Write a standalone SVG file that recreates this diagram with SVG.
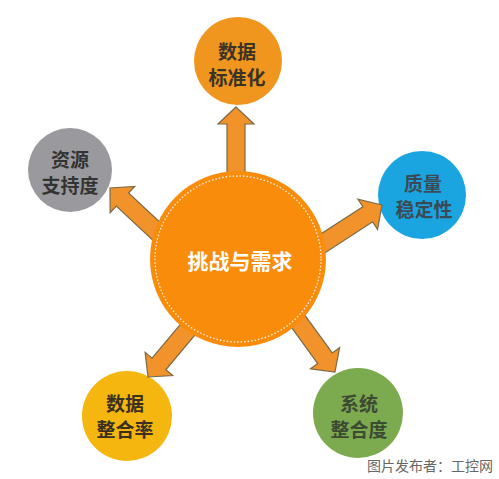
<svg xmlns="http://www.w3.org/2000/svg" width="499" height="479" viewBox="0 0 499 479">
<style>
.t{font-family:"Noto Sans CJK SC","Noto Sans",sans-serif;font-weight:bold;font-size:19px;text-anchor:middle;dominant-baseline:central}
.arr{fill:#F2922A;stroke:#7a6a48;stroke-width:1.2;stroke-linejoin:miter}
</style>
<defs>
<polygon id="a75" points="0,0 -17,-18 -17,-9 -75,-9 -75,9 -17,9 -17,18"/>
<polygon id="a70" points="0,0 -17,-18 -17,-9 -70,-9 -70,9 -17,9 -17,18"/>
</defs>
<rect width="499" height="479" fill="#ffffff"/>
<g id="node-top">
<circle cx="238" cy="61" r="44" fill="#F0961F"/>
<text class="t" x="237" y="50" fill="#3b3325">数据</text>
<text class="t" x="237" y="76" fill="#3b3325">标准化</text>
</g>
<g id="node-left">
<circle cx="70" cy="170" r="42" fill="#9a9a9e"/>
<text class="t" x="70" y="158" fill="#333333">资源</text>
<text class="t" x="70" y="184" fill="#333333">支持度</text>
</g>
<g id="node-right">
<circle cx="422" cy="195" r="44" fill="#1AA5E0"/>
<text class="t" x="423" y="182.5" fill="#3c4a55">质量</text>
<text class="t" x="424" y="208.5" fill="#3c4a55">稳定性</text>
</g>
<g id="node-bottom-left">
<circle cx="127" cy="416" r="45" fill="#F4B60F"/>
<text class="t" x="125" y="402.5" fill="#3a3020">数据</text>
<text class="t" x="125" y="428.5" fill="#3a3020">整合率</text>
</g>
<g id="node-bottom-right">
<circle cx="358" cy="413" r="45" fill="#7CAA4E"/>
<text class="t" x="359" y="402" fill="#3d4a33">系统</text>
<text class="t" x="359" y="428" fill="#3d4a33">整合度</text>
</g>
<g id="connectors">
<use href="#a75" class="arr" transform="translate(236,107) rotate(-90)"/>
<use href="#a75" class="arr" transform="translate(110,188) rotate(-137)"/>
<use href="#a75" class="arr" transform="translate(382,205) rotate(-33)"/>
<use href="#a70" class="arr" transform="translate(148,377) rotate(130)"/>
<use href="#a70" class="arr" transform="translate(335,372) rotate(54)"/>
</g>
<g id="node-center">
<circle cx="238" cy="259" r="88" fill="#FA8C0C"/>
<circle cx="238" cy="259" r="83" fill="none" stroke="#ffffff" stroke-width="1.3" stroke-dasharray="1.5,2" opacity="0.9"/>
<text class="t" x="240" y="260" fill="#ffffff" style="font-size:21px">挑战与需求</text>
</g>
<text x="493" y="465" style="font-family:'Noto Sans CJK SC','Noto Sans',sans-serif;font-size:14px;text-anchor:end;dominant-baseline:central" fill="#666666">图片发布者：工控网</text>
</svg>
